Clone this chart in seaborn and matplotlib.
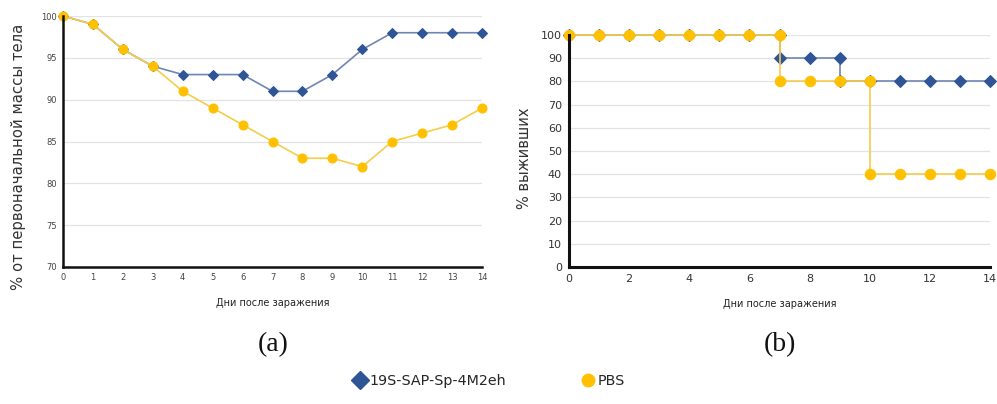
import numpy as np
import pandas as pd
import matplotlib
matplotlib.use("Agg")
import matplotlib.pyplot as plt
import seaborn as sns
from matplotlib.lines import Line2D

sns.set_theme(style="white")
plt.rcParams['font.family'] = ['DejaVu Sans']

# ---- data ----
days = list(range(15))
weight_19s = [100, 99, 96, 94, 93, 93, 93, 91, 91, 93, 96, 98, 98, 98, 98]
weight_pbs = [100, 99, 96, 94, 91, 89, 87, 85, 83, 83, 82, 85, 86, 87, 89]

surv_19s_x = [0, 1, 2, 3, 4, 5, 6, 7, 7, 8, 9, 9, 10, 11, 12, 13, 14]
surv_19s_y = [100, 100, 100, 100, 100, 100, 100, 100, 90, 90, 90, 80, 80, 80, 80, 80, 80]
surv_pbs_x = [0, 1, 2, 3, 4, 5, 6, 7, 7, 8, 9, 10, 10, 11, 12, 13, 14]
surv_pbs_y = [100, 100, 100, 100, 100, 100, 100, 100, 80, 80, 80, 80, 40, 40, 40, 40, 40]

series_names = ["19S-SAP-Sp-4M2eh", "PBS"]
weight_yticks = [70, 75, 80, 85, 90, 95, 100]
surv_yticks = list(range(0, 101, 10))
surv_xticks = list(range(0, 15, 2))
xlabel = "Дни после заражения"
ylabel_a = "% от первоначальной массы тела"
ylabel_b = "% выживших"

BLUE = "#2F5597"
BLUE_LINE = "#6F86B4"
GOLD = "#FFC000"
GOLD_LINE = "#F5CD4A"

fig = plt.figure(figsize=(9.97, 4.04), dpi=100)
axa = fig.add_axes([63/997, 1-267/404, (482-63)/997, (267-16)/404])
axb = fig.add_axes([569/997, 1-267/404, (990-569)/997, (267-35)/404])

# ---- panel a ----
dfa1 = pd.DataFrame({"day": days, "val": weight_19s})
dfa2 = pd.DataFrame({"day": days, "val": weight_pbs})
sns.lineplot(data=dfa1, x="day", y="val", ax=axa, estimator=None, sort=False,
             color=BLUE_LINE, lw=1.2, marker="D", markersize=5.5,
             markerfacecolor=BLUE, markeredgecolor=BLUE, clip_on=False)
sns.lineplot(data=dfa2, x="day", y="val", ax=axa, estimator=None, sort=False,
             color=GOLD_LINE, lw=1.2, marker="o", markersize=6.5,
             markerfacecolor=GOLD, markeredgecolor=GOLD, clip_on=False)
axa.set_xlim(0, 14)
axa.set_ylim(70, 100)
axa.set_xticks(days)
axa.set_yticks(weight_yticks)
axa.tick_params(axis="both", labelsize=6, colors="#444444", length=3, width=1,
                direction="inout", pad=3)
axa.set_xlabel(xlabel, fontsize=7, labelpad=11, color="#222222")
axa.set_ylabel(ylabel_a, fontsize=10.7, color="#333333")
axa.yaxis.set_label_coords(-0.088, 0.44)

# ---- panel b ----
dfb1 = pd.DataFrame({"day": surv_19s_x, "val": surv_19s_y})
dfb2 = pd.DataFrame({"day": surv_pbs_x, "val": surv_pbs_y})
sns.lineplot(data=dfb1, x="day", y="val", ax=axb, estimator=None, sort=False,
             color=BLUE_LINE, lw=1.2, marker="D", markersize=6.5,
             markerfacecolor=BLUE, markeredgecolor=BLUE, clip_on=False)
sns.lineplot(data=dfb2, x="day", y="val", ax=axb, estimator=None, sort=False,
             color=GOLD_LINE, lw=1.2, marker="o", markersize=7.5,
             markerfacecolor=GOLD, markeredgecolor=GOLD, clip_on=False)
axb.set_xlim(0, 14)
axb.set_ylim(0, 100)
axb.set_xticks(surv_xticks)
axb.set_yticks(surv_yticks)
axb.tick_params(axis="both", labelsize=8, colors="#333333", length=4, width=1,
                direction="inout", pad=3)
axb.set_xlabel(xlabel, fontsize=7, labelpad=11, color="#222222")
axb.set_ylabel(ylabel_b, fontsize=10.5, color="#333333")
axb.yaxis.set_label_coords(-0.088, 0.47)

for ax, lw in ((axa, 1.8), (axb, 2.2)):
    ax.grid(axis="y", color="#E3E3E3", lw=0.9)
    ax.set_axisbelow(True)
    for s in ("top", "right"):
        ax.spines[s].set_visible(False)
    for s in ("left", "bottom"):
        ax.spines[s].set_color("#111111")
        ax.spines[s].set_linewidth(lw)
    ax.tick_params(axis="both", which="major", color="#111111")
    if ax.get_legend() is not None:
        ax.get_legend().remove()

fig.text(273/997, 1-345/404, "(a)", fontsize=20, family="Liberation Serif",
         ha="center", va="center", color="#111111")
fig.text(780/997, 1-345/404, "(b)", fontsize=20, family="Liberation Serif",
         ha="center", va="center", color="#111111")

handles = [Line2D([], [], ls="none", marker="D", markersize=9,
                  markerfacecolor=BLUE, markeredgecolor=BLUE),
           Line2D([], [], ls="none", marker="o", markersize=9,
                  markerfacecolor=GOLD, markeredgecolor=GOLD)]
fig.legend(handles, series_names, loc="center", bbox_to_anchor=(489/997, 1-381/404),
           ncol=2, frameon=False, fontsize=10.3, handletextpad=0.2,
           columnspacing=5.2, handlelength=1.0)

fig.savefig("out.png", dpi=100, facecolor="white")
